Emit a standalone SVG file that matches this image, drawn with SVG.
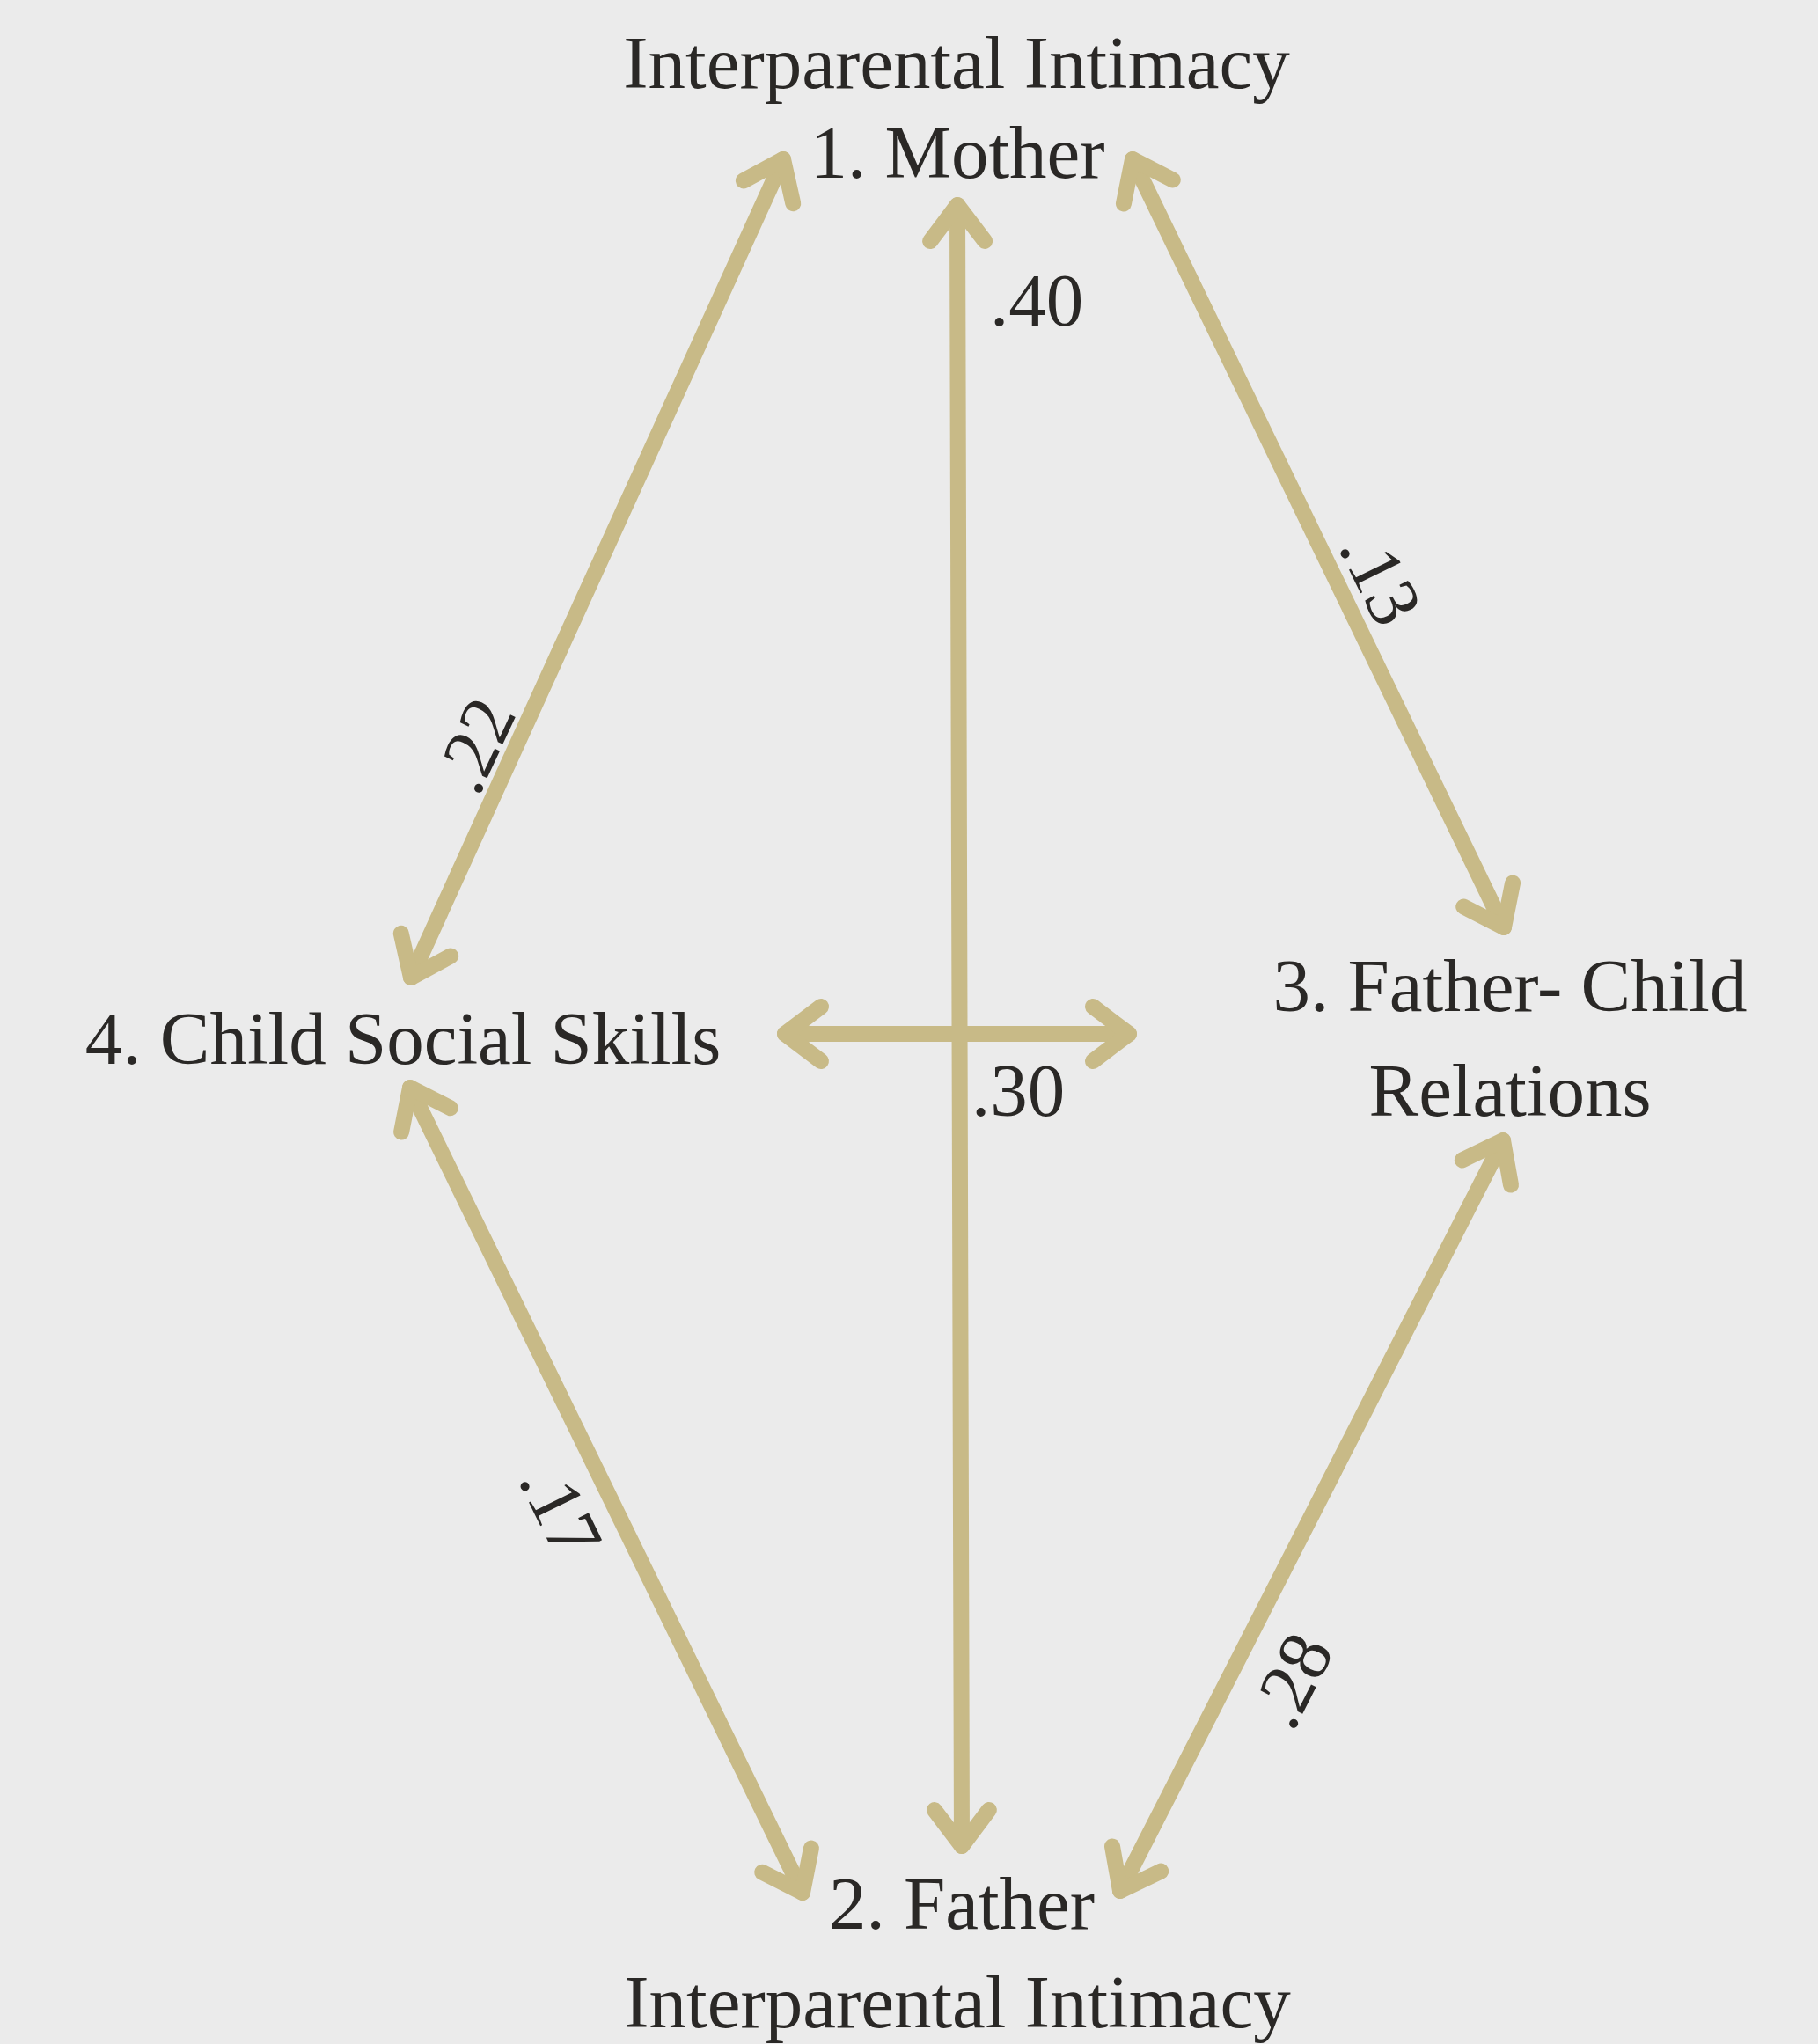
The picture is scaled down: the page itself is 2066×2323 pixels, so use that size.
<svg xmlns="http://www.w3.org/2000/svg" width="2066" height="2323" viewBox="0 0 2066 2323">
<defs>
<style>
.lbl{font-family:"Liberation Serif","Times New Roman",serif;font-size:85px;fill:#2a2826}
.num{font-family:"Liberation Serif","Times New Roman",serif;font-size:85px;fill:#2a2826}
.edge{stroke:#c8ba87;stroke-width:18;stroke-linecap:round;fill:none;marker-start:url(#chev);marker-end:url(#chev)}
</style>
<marker id="chev" markerUnits="userSpaceOnUse" markerWidth="120" markerHeight="120" refX="0" refY="0" viewBox="-60 -60 120 120" orient="auto-start-reverse" overflow="visible">
<path d="M -41 -31 L 0 0 L -41 31" fill="none" stroke="#c8ba87" stroke-width="18" stroke-linecap="round" stroke-linejoin="round"/>
</marker>
</defs>
<rect width="2066" height="2323" fill="#ebebeb"/>
<g id="connectors">
<line class="edge" x1="890" y1="181" x2="467" y2="1111"/>
<line class="edge" x1="1088" y1="233" x2="1093" y2="2098"/>
<line class="edge" x1="1287" y1="181" x2="1709" y2="1054"/>
<line class="edge" x1="466" y1="1236" x2="912" y2="2151"/>
<line class="edge" x1="1708" y1="1296" x2="1273" y2="2149"/>
<line class="edge" x1="892" y1="1175" x2="1283" y2="1175"/>
<text class="num" x="1125" y="370">.40</text>
<text class="num" x="1104" y="1268">.30</text>
<text class="num" text-anchor="middle" transform="translate(540,847) rotate(-65)" x="0" y="28">.22</text>
<text class="num" text-anchor="middle" transform="translate(1569,657) rotate(64)" x="0" y="28">.13</text>
<text class="num" text-anchor="middle" transform="translate(637,1717) rotate(64)" x="0" y="28">.17</text>
<text class="num" text-anchor="middle" transform="translate(1468,1910) rotate(-63)" x="0" y="28">.28</text>
</g>
<g id="node1">
<text class="lbl" x="1087" y="100" text-anchor="middle">Interparental Intimacy</text>
<text class="lbl" x="1088" y="202" text-anchor="middle">1. Mother</text>
</g>
<g id="node2">
<text class="lbl" x="1093" y="2192" text-anchor="middle">2. Father</text>
<text class="lbl" x="1088" y="2304" text-anchor="middle">Interparental Intimacy</text>
</g>
<g id="node3">
<text class="lbl" x="1716" y="1149" text-anchor="middle">3. Father- Child</text>
<text class="lbl" x="1716" y="1268" text-anchor="middle">Relations</text>
</g>
<g id="node4">
<text class="lbl" x="458" y="1209" text-anchor="middle">4. Child Social Skills</text>
</g>
</svg>
